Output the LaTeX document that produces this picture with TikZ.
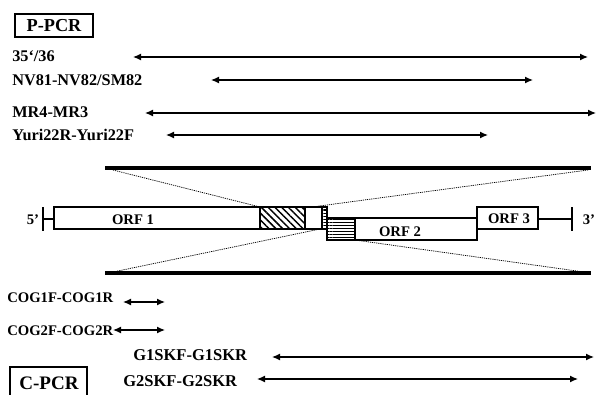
\documentclass[tikz,border=0pt]{standalone}
\usepackage{fontspec}
\setmainfont{Liberation Serif}
\usetikzlibrary{arrows.meta,patterns.meta}
\begin{document}
\begin{tikzpicture}[x=0.75pt,y=-0.75pt,
  lbl/.style={anchor=west,inner sep=0pt,font=\bfseries\fontsize{12.2}{13}\selectfont},
  lblb/.style={anchor=west,inner sep=0pt,font=\bfseries\fontsize{12.4}{13}\selectfont},
  orf/.style={inner sep=0pt,font=\bfseries\fontsize{11}{12}\selectfont},
  dbl/.style={{Latex[length=6pt,width=5.2pt]}-{Latex[length=6pt,width=5.2pt]},line width=0.9pt},
  thick line/.style={line width=3pt},
  dots/.style={dash pattern=on 0.9pt off 0.7pt,line width=0.55pt},
  gbox/.style={draw,line width=0.8pt}]
\useasboundingbox (0,0) rectangle (597,394);
% P-PCR box
\draw[line width=0.8pt] (15,14) rectangle (93,37);
\node[inner sep=0pt,font=\bfseries\fontsize{13.7}{14}\selectfont] (ppcr) at (54,25.5) {P-PCR};
% P-PCR rows
\node[lbl] (l1) at (12,56) {35‘/36};
\coordinate (a1s) at (133,57); \coordinate (a1e) at (588,57);
\draw[dbl] (a1s) -- (a1e);
\node[lbl] (l2) at (12,80) {NV81-NV82/SM82};
\coordinate (a2s) at (211,80); \coordinate (a2e) at (533,80);
\draw[dbl] (a2s) -- (a2e);
\node[lbl] (l3) at (12,112) {MR4-MR3};
\coordinate (a3s) at (145,113); \coordinate (a3e) at (596,113);
\draw[dbl] (a3s) -- (a3e);
\node[lbl] (l4) at (12,135) {Yuri22R-Yuri22F};
\coordinate (a4s) at (166,135); \coordinate (a4e) at (488,135);
\draw[dbl] (a4s) -- (a4e);
% thick lines
\coordinate (t1) at (105,168); \coordinate (t2) at (591,168);
\coordinate (b1) at (105,273); \coordinate (b2) at (591,273);
\draw[thick line] (t1) -- (t2);
\draw[thick line] (b1) -- (b2);
% genome
\node[orf] (p5) at (33,220) {5’};
\draw[line width=1pt] (43,207) -- (43,231);
\draw[line width=0.8pt] (43,219) -- (54,219);
\draw[gbox] (54,207) rectangle (260,229);
\node[orf] (o1) at (133,220) {ORF 1};
\fill[pattern={Lines[angle=-45,distance=3.6pt,line width=1.1pt]}] (260,207) rectangle (305,229);
\draw[gbox] (260,207) rectangle (305,229);
\draw[gbox] (305,207) rectangle (322,229);
\fill[pattern={Lines[angle=0,distance=2.3pt,line width=0.8pt]}] (322,207) rectangle (327,229);
\draw[gbox] (322,207) rectangle (327,229);
\fill[pattern={Lines[angle=0,distance=2.3pt,line width=0.8pt]}] (327,218) rectangle (355,240);
\draw[gbox] (327,218) rectangle (355,240);
\draw[gbox] (355,218) rectangle (477,240);
\node[orf] (o2) at (400,232) {ORF 2};
\draw[gbox,fill=white] (477,207) rectangle (538,229);
\node[orf] (o3) at (509,219) {ORF 3};
\draw[line width=0.8pt] (538,219) -- (572,219);
\draw[line width=1pt] (572,207) -- (572,231);
\node[orf] (p3) at (589,220) {3’};
% dotted lines
\draw[dots] (113,170) -- (260,207);
\draw[dots] (312,207) -- (588,170);
\draw[dots] (113,272) -- (320,229);
\draw[dots] (355,240) -- (584,272);
% C-PCR rows
\node[lbl,font=\bfseries\fontsize{11}{12}\selectfont] (c1) at (7,298) {COG1F-COG1R};
\coordinate (c1s) at (123,302); \coordinate (c1e) at (165,302);
\draw[dbl] (c1s) -- (c1e);
\node[lbl,font=\bfseries\fontsize{11}{12}\selectfont] (c2) at (7,331) {COG2F-COG2R};
\coordinate (c2s) at (113,330); \coordinate (c2e) at (165,330);
\draw[dbl] (c2s) -- (c2e);
\node[lblb] (g1) at (133,355) {G1SKF-G1SKR};
\coordinate (g1s) at (272,357); \coordinate (g1e) at (594,357);
\draw[dbl] (g1s) -- (g1e);
\node[lblb] (g2) at (123,381) {G2SKF-G2SKR};
\coordinate (g2s) at (257,379); \coordinate (g2e) at (578,379);
\draw[dbl] (g2s) -- (g2e);
% C-PCR box
\draw[line width=0.8pt] (10,400) -- (10,367) -- (87,367) -- (87,400);
\node[inner sep=0pt,font=\bfseries\fontsize{14.3}{15}\selectfont] (cpcr) at (49,383) {C-PCR};
\end{tikzpicture}
\end{document}
